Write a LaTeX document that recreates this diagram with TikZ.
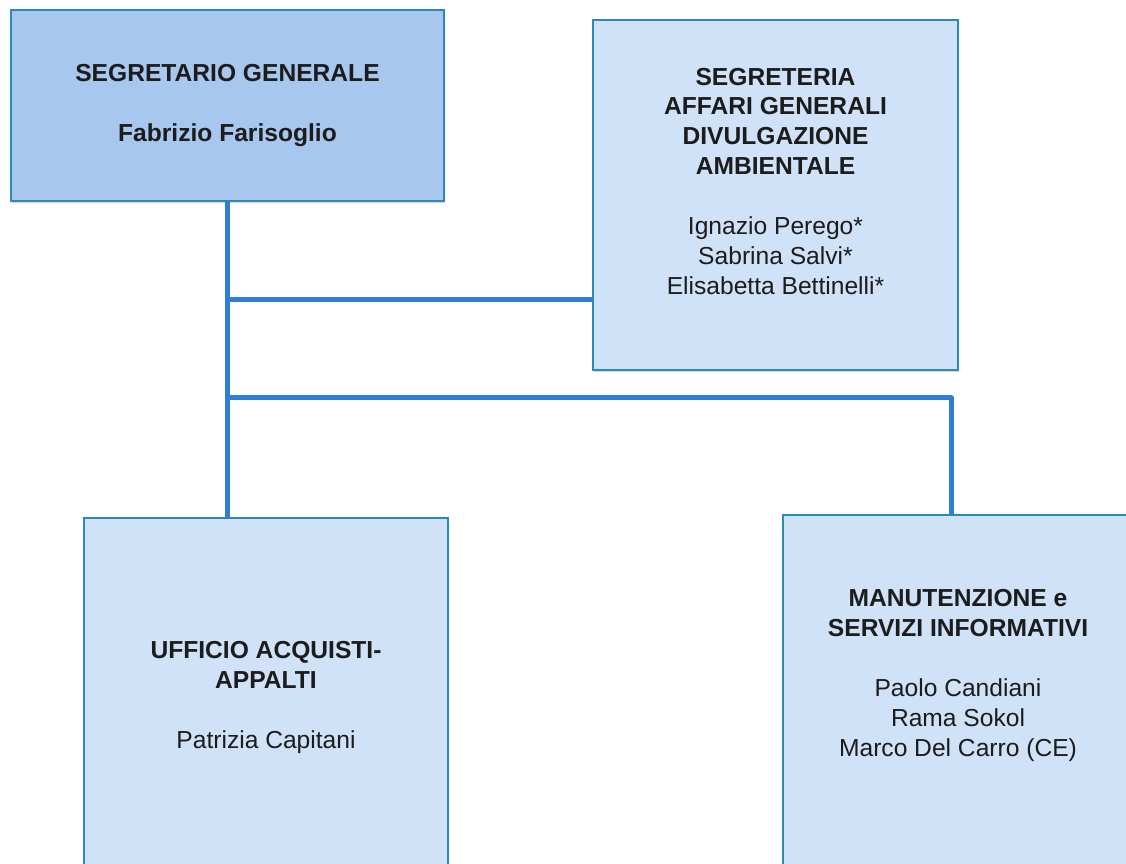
\documentclass[tikz,border=0pt]{standalone}
\usepackage{fontspec}
\setmainfont{Liberation Sans}
\usepackage{tikz}
\usetikzlibrary{positioning,shadows,calc}

\definecolor{bordo}{HTML}{2B8AB6}
\definecolor{scuro}{HTML}{A8C7EE}
\definecolor{chiaro}{HTML}{CFE2F7}
\definecolor{linea}{HTML}{2F7ED6}
\definecolor{testo}{HTML}{1C1C1C}

\tikzset{
	ufficio/.style={draw=bordo, line width=1pt, fill=chiaro, align=center, text=testo,
		font=\fontsize{14}{17}\selectfont,
		drop shadow={shadow xshift=0.6pt, shadow yshift=-0.9pt, opacity=0.3}},
	collega/.style={draw=linea, line width=2.85pt, line join=round}
}

\begin{document}
\begin{tikzpicture}
	\useasboundingbox (0,0) rectangle (22.52,-17.26);
	\clip (0,0) rectangle (22.52,-17.26);
	
	% caselle
	\node[ufficio, fill=scuro, minimum width=8.66cm, minimum height=3.82cm] (sg) at (4.55,-2.11)
		{\textbf{SEGRETARIO GENERALE}\\[17pt]\textbf{Fabrizio Farisoglio}};
	\node[ufficio, minimum width=7.3cm, minimum height=7cm, text depth=0.56cm] (segr) at (15.51,-3.9)
		{\textbf{SEGRETERIA}\\\textbf{AFFARI GENERALI}\\\textbf{DIVULGAZIONE}\\\textbf{AMBIENTALE}\\[17pt]
		Ignazio Perego*\\Sabrina Salvi*\\Elisabetta Bettinelli*};
	\node[ufficio, minimum width=7.28cm, minimum height=7.18cm] (uffi) at (5.32,-13.95)
		{\textbf{UFFICIO ACQUISTI-}\\\textbf{APPALTI}\\[17pt]Patrizia Capitani};
	\node[ufficio, minimum width=7cm, minimum height=7.3cm, text depth=0.98cm] (manut) at (19.16,-13.95)
		{\textbf{MANUTENZIONE e}\\\textbf{SERVIZI INFORMATIVI}\\[17pt]
		Paolo Candiani\\Rama Sokol\\Marco Del Carro (CE)};
	
	% collegamenti
	\coordinate (b1) at ($(sg.south)+(0,-1.96)$);
	\coordinate (b2) at ($(sg.south)+(0,-3.92)$);
	\draw[collega] (sg.south) -- (sg.south |- uffi.north);
	\draw[collega] (b1) -- (b1 -| segr.west);
	\draw[collega] (b2) -| ([xshift=-0.14cm]manut.north);
\end{tikzpicture}
\end{document}
